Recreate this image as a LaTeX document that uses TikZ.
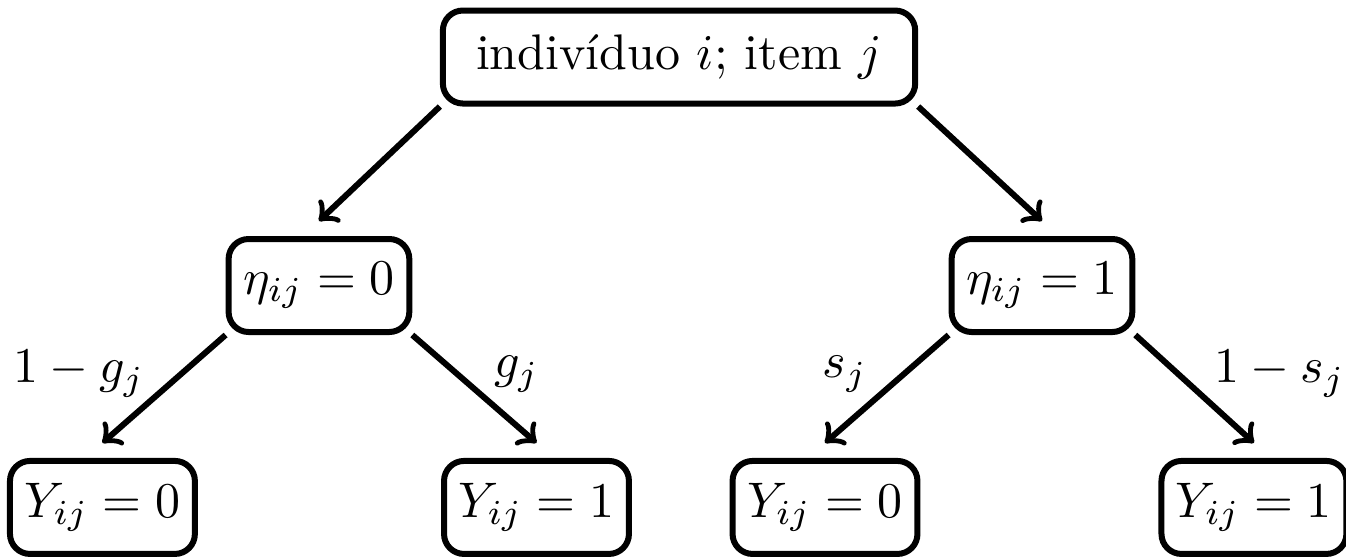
\documentclass[tikz,border=0pt]{standalone}

\begin{document}
\begin{tikzpicture}[
    caixa/.style={draw, very thick, rounded corners, inner xsep=2.9pt, minimum height=18.6pt},
    seta/.style={->, very thick},
    rotesq/.style={midway, left=0pt, yshift=3pt},
    rotdir/.style={midway, right=0pt, yshift=3pt}
  ]
      \useasboundingbox (0,0) rectangle (9.461,-3.922);
      \node[caixa, minimum width=3.32cm] (raiz) at (4.773,-0.401) {indivíduo $i$; item $j$};
      \node[caixa] (eta0) at (2.242,-2.007) {$\eta_{ij} = 0$};
      \node[caixa] (eta1) at (7.324,-2.007) {$\eta_{ij} = 1$};
      \node[caixa] (y00) at (0.720,-3.567) {$Y_{ij} = 0$};
      \node[caixa] (y01) at (3.771,-3.567) {$Y_{ij} = 1$};
      \node[caixa] (y10) at (5.799,-3.567) {$Y_{ij} = 0$};
      \node[caixa] (y11) at (8.814,-3.567) {$Y_{ij} = 1$};
      \draw[seta] (raiz.south west) -- ([yshift=3pt]eta0.north);
      \draw[seta] (raiz.south east) -- ([yshift=3pt]eta1.north);
      \draw[seta] (eta0.south west) -- node[rotesq] {$1 - g_j$} ([yshift=3pt]y00.north);
      \draw[seta] (eta0.south east) -- node[rotdir] {$g_j$} ([yshift=3pt]y01.north);
      \draw[seta] (eta1.south west) -- node[rotesq] {$s_j$} ([yshift=3pt]y10.north);
      \draw[seta] (eta1.south east) -- node[rotdir] {$1 - s_j$} ([yshift=3pt]y11.north);
\end{tikzpicture}
\end{document}
